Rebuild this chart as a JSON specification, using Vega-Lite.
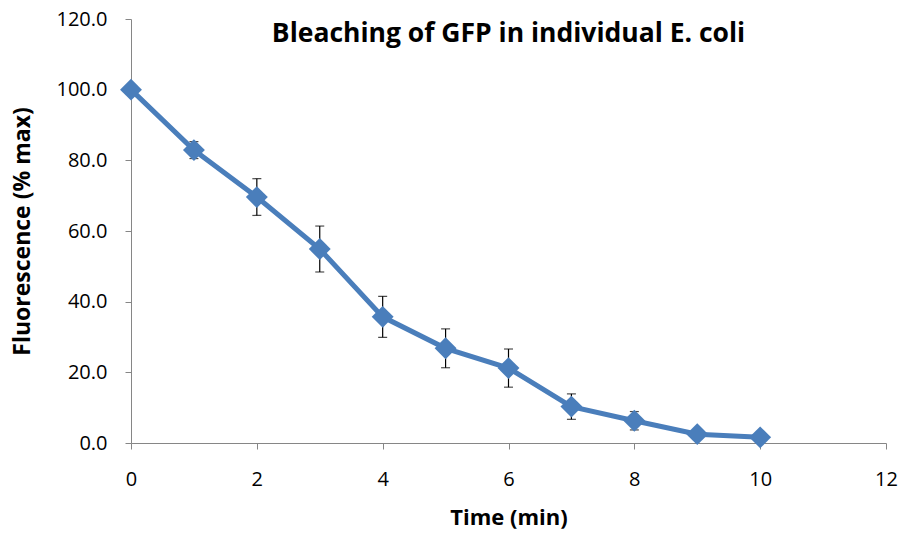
{
  "$schema": "https://vega.github.io/schema/vega-lite/v6.json",
  "autosize": "none",
  "width": 755,
  "height": 424,
  "padding": {"left": 131, "top": 19, "right": 21, "bottom": 92},
  "background": "white",
  "config": {
    "view": {"stroke": null},
    "font": "Open Sans"
  },
  "title": {
    "text": "Bleaching of GFP in individual E. coli",
    "anchor": "middle",
    "orient": "top",
    "offset": -38,
    "font": "Open Sans",
    "fontSize": 26.5,
    "fontWeight": "bold",
    "color": "black"
  },
  "data": {
    "values": [
      {"time": 0, "fluor": 100.0, "err": 0},
      {"time": 1, "fluor": 82.9, "err": 2.4},
      {"time": 2, "fluor": 69.6, "err": 5.2},
      {"time": 3, "fluor": 54.9, "err": 6.5},
      {"time": 4, "fluor": 35.7, "err": 5.8},
      {"time": 5, "fluor": 26.8, "err": 5.5},
      {"time": 6, "fluor": 21.2, "err": 5.4},
      {"time": 7, "fluor": 10.3, "err": 3.6},
      {"time": 8, "fluor": 6.3, "err": 2.6},
      {"time": 9, "fluor": 2.5, "err": 0},
      {"time": 10, "fluor": 1.6, "err": 0}
    ]
  },
  "transform": [
    {"calculate": "datum.fluor - datum.err", "as": "lo"},
    {"calculate": "datum.fluor + datum.err", "as": "hi"}
  ],
  "encoding": {
    "x": {
      "field": "time",
      "type": "quantitative",
      "scale": {"domain": [0, 12], "nice": false, "zero": true},
      "axis": {
        "title": "Time (min)",
        "values": [0, 2, 4, 6, 8, 10, 12],
        "grid": false,
        "labelFlush": false,
        "domainColor": "#868686",
        "tickColor": "#868686",
        "tickSize": 6,
        "labelFont": "Open Sans",
        "labelFontSize": 20,
        "labelColor": "black",
        "labelPadding": 20,
        "titleFont": "Open Sans",
        "titleFontSize": 22,
        "titleFontWeight": "bold",
        "titleColor": "black",
        "titlePadding": 18
      }
    },
    "y": {
      "field": "fluor",
      "type": "quantitative",
      "scale": {"domain": [0, 120], "nice": false},
      "axis": {
        "title": "Fluorescence (% max)",
        "values": [0, 20, 40, 60, 80, 100, 120],
        "format": ".1f",
        "grid": false,
        "labelFlush": false,
        "domainColor": "#868686",
        "tickColor": "#868686",
        "tickSize": 6,
        "labelFont": "Open Sans",
        "labelFontSize": 20,
        "labelColor": "black",
        "labelPadding": 18,
        "titleFont": "Open Sans",
        "titleFontSize": 23,
        "titleFontWeight": "bold",
        "titleColor": "black",
        "titlePadding": 22
      }
    }
  },
  "layer": [
    {
      "transform": [{"filter": "datum.err > 0"}],
      "mark": {"type": "rule", "color": "black", "strokeWidth": 1.2},
      "encoding": {"y": {"field": "lo", "type": "quantitative"}, "y2": {"field": "hi"}}
    },
    {
      "transform": [{"filter": "datum.err > 0"}],
      "mark": {"type": "tick", "orient": "horizontal", "color": "black", "size": 9, "thickness": 1.2},
      "encoding": {"y": {"field": "lo", "type": "quantitative"}}
    },
    {
      "transform": [{"filter": "datum.err > 0"}],
      "mark": {"type": "tick", "orient": "horizontal", "color": "black", "size": 9, "thickness": 1.2},
      "encoding": {"y": {"field": "hi", "type": "quantitative"}}
    },
    {
      "mark": {"type": "line", "color": "#4A7EBB", "strokeWidth": 5},
      "encoding": {}
    },
    {
      "mark": {"type": "point", "shape": "diamond", "filled": true, "opacity": 1, "color": "#4A7EBB", "size": 480},
      "encoding": {}
    }
  ]
}
